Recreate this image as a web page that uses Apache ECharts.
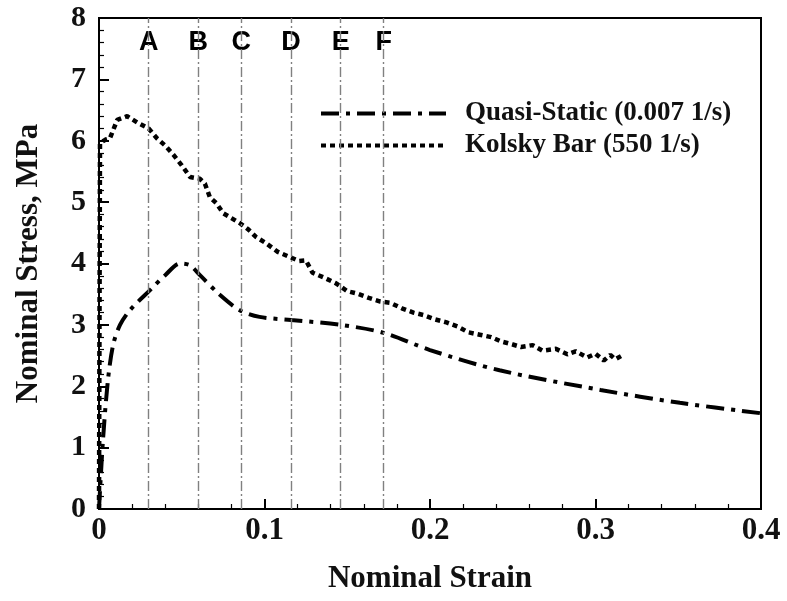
<!DOCTYPE html>
<html>
<head>
<meta charset="utf-8">
<script src="https://cdn.jsdelivr.net/npm/echarts@6/dist/echarts.min.js"></script>
<style>html,body{margin:0;padding:0;background:#fff;}#c{width:787px;height:601px;}</style>
</head>
<body>
<div id="c"></div>
<script>
// ---- data ----
var quasiStrain = [0, 0.0024, 0.0054, 0.0085, 0.0127, 0.0187, 0.031, 0.040, 0.049, 0.055, 0.061, 0.073, 0.085, 0.097, 0.116, 0.146, 0.172, 0.200, 0.242, 0.303, 0.351, 0.400];
var quasiStress = [0, 1.12, 2.10, 2.67, 3.00, 3.24, 3.57, 3.81, 4.00, 3.97, 3.81, 3.49, 3.24, 3.13, 3.08, 3.00, 2.87, 2.59, 2.26, 1.94, 1.73, 1.56];

var kolskyStrain = [0, 0.0003, 0.0006, 0.004, 0.0066, 0.011, 0.017, 0.023, 0.030, 0.035, 0.040, 0.045, 0.050, 0.055, 0.061, 0.064, 0.067, 0.071, 0.075, 0.080, 0.085, 0.090, 0.095, 0.101, 0.108, 0.114, 0.121, 0.125, 0.129, 0.136, 0.143, 0.150, 0.156, 0.163, 0.170, 0.176, 0.183, 0.190, 0.196, 0.203, 0.210, 0.217, 0.223, 0.230, 0.237, 0.243, 0.250, 0.255, 0.262, 0.268, 0.276, 0.283, 0.288, 0.295, 0.300, 0.305, 0.309, 0.312, 0.316];
var kolskyStress = [0, 3.0, 5.96, 6.02, 6.04, 6.34, 6.40, 6.30, 6.20, 6.04, 5.92, 5.77, 5.60, 5.41, 5.38, 5.30, 5.08, 4.98, 4.82, 4.74, 4.66, 4.56, 4.43, 4.33, 4.19, 4.12, 4.04, 4.05, 3.85, 3.77, 3.68, 3.55, 3.51, 3.44, 3.38, 3.36, 3.27, 3.20, 3.16, 3.09, 3.04, 2.97, 2.88, 2.84, 2.80, 2.73, 2.68, 2.64, 2.67, 2.58, 2.61, 2.52, 2.57, 2.47, 2.53, 2.42, 2.51, 2.44, 2.50];

var markerNames = ['A', 'B', 'C', 'D', 'E', 'F'];
var markerStrains = [0.030, 0.060, 0.086, 0.116, 0.146, 0.172];
var markerLabelStress = 7.6;

var seriesNames = ['Quasi-Static (0.007 1/s)', 'Kolsky Bar (550 1/s)'];
var xTicks = [0, 0.1, 0.2, 0.3, 0.4];
var yTicks = [0, 1, 2, 3, 4, 5, 6, 7, 8];

function zip(a, b) { return a.map(function (v, i) { return [v, b[i]]; }); }

var serif = '"Liberation Serif", "Times New Roman", serif';
var sans = '"Liberation Sans", Arial, sans-serif';

var chart = echarts.init(document.getElementById('c'), null, { renderer: 'canvas' });
chart.setOption({
  animation: false,
  backgroundColor: '#fff',
  grid: { left: 99, right: 26, top: 18, bottom: 92, show: true, borderColor: '#000', borderWidth: 2, backgroundColor: 'transparent' },
  legend: {
    orient: 'vertical', left: 319, top: 100, padding: 0,
    itemWidth: 125, itemHeight: 20, itemGap: 5,
    data: seriesNames,
    itemStyle: { opacity: 0 },
    lineStyle: { width: 4 },
    textStyle: { fontFamily: serif, fontWeight: 'bold', fontSize: 27, color: '#111', padding: [0, 0, 0, 14] }
  },
  xAxis: {
    type: 'value', min: 0, max: 0.4, interval: 0.1,
    name: 'Nominal Strain', nameLocation: 'middle', nameGap: 54,
    nameTextStyle: { fontFamily: serif, fontWeight: 'bold', fontSize: 31, color: '#111' },
    axisLine: { show: true, lineStyle: { color: '#000', width: 2 } },
    axisTick: { show: true, inside: true, length: 10, lineStyle: { color: '#000', width: 2 } },
    minorTick: { show: true, splitNumber: 5, length: 5, lineStyle: { color: '#000', width: 1.2 } },
    splitLine: { show: false },
    axisLabel: { margin: 6, fontFamily: serif, fontWeight: 'bold', fontSize: 31, color: '#111',
      formatter: function (v) { return xTicks.indexOf(Math.round(v * 10) / 10) >= 0 ? String(Math.round(v * 10) / 10) : ''; } }
  },
  yAxis: {
    type: 'value', min: 0, max: 8, interval: 1,
    name: 'Nominal Stress, MPa', nameLocation: 'middle', nameGap: 55,
    nameTextStyle: { fontFamily: serif, fontWeight: 'bold', fontSize: 31, color: '#111' },
    axisLine: { show: true, lineStyle: { color: '#000', width: 2 } },
    axisTick: { show: true, inside: true, length: 10, lineStyle: { color: '#000', width: 2 } },
    minorTick: { show: true, splitNumber: 5, length: 5, lineStyle: { color: '#000', width: 1.2 } },
    splitLine: { show: false },
    axisLabel: { margin: 13, fontFamily: serif, fontWeight: 'bold', fontSize: 30, color: '#111',
      formatter: function (v) { return yTicks.indexOf(v) >= 0 ? String(v) : ''; } }
  },
  series: [
    {
      name: 'markers', type: 'scatter', symbolSize: 0, z: 1, silent: true,
      itemStyle: { opacity: 1 },
      data: markerStrains.map(function (s, i) { return { value: [s, markerLabelStress], name: markerNames[i] }; }),
      label: { show: true, position: 'inside', formatter: '{b}', fontFamily: sans, fontWeight: 'bold', fontSize: 27, color: '#000', opacity: 1, backgroundColor: '#fff', padding: [1, 1] },
      markLine: {
        silent: true, precision: 4, symbol: ['none', 'none'], label: { show: false },
        lineStyle: { color: '#808080', width: 1.4, type: [10, 3, 2, 3] },
        data: markerStrains.map(function (s) { return { xAxis: s }; })
      }
    },
    {
      name: seriesNames[0], type: 'line', data: zip(quasiStrain, quasiStress), symbol: 'none', smooth: 0.3, z: 3,
      lineStyle: { color: '#000', width: 4, type: [18, 7, 4, 7] },
      itemStyle: { color: '#000' }
    },
    {
      name: seriesNames[1], type: 'line', data: zip(kolskyStrain, kolskyStress), symbol: 'none', smooth: false, z: 3,
      lineStyle: { color: '#000', width: 4.5, type: [5, 4] },
      itemStyle: { color: '#000' }
    }
  ]
});
</script>
</body>
</html>
